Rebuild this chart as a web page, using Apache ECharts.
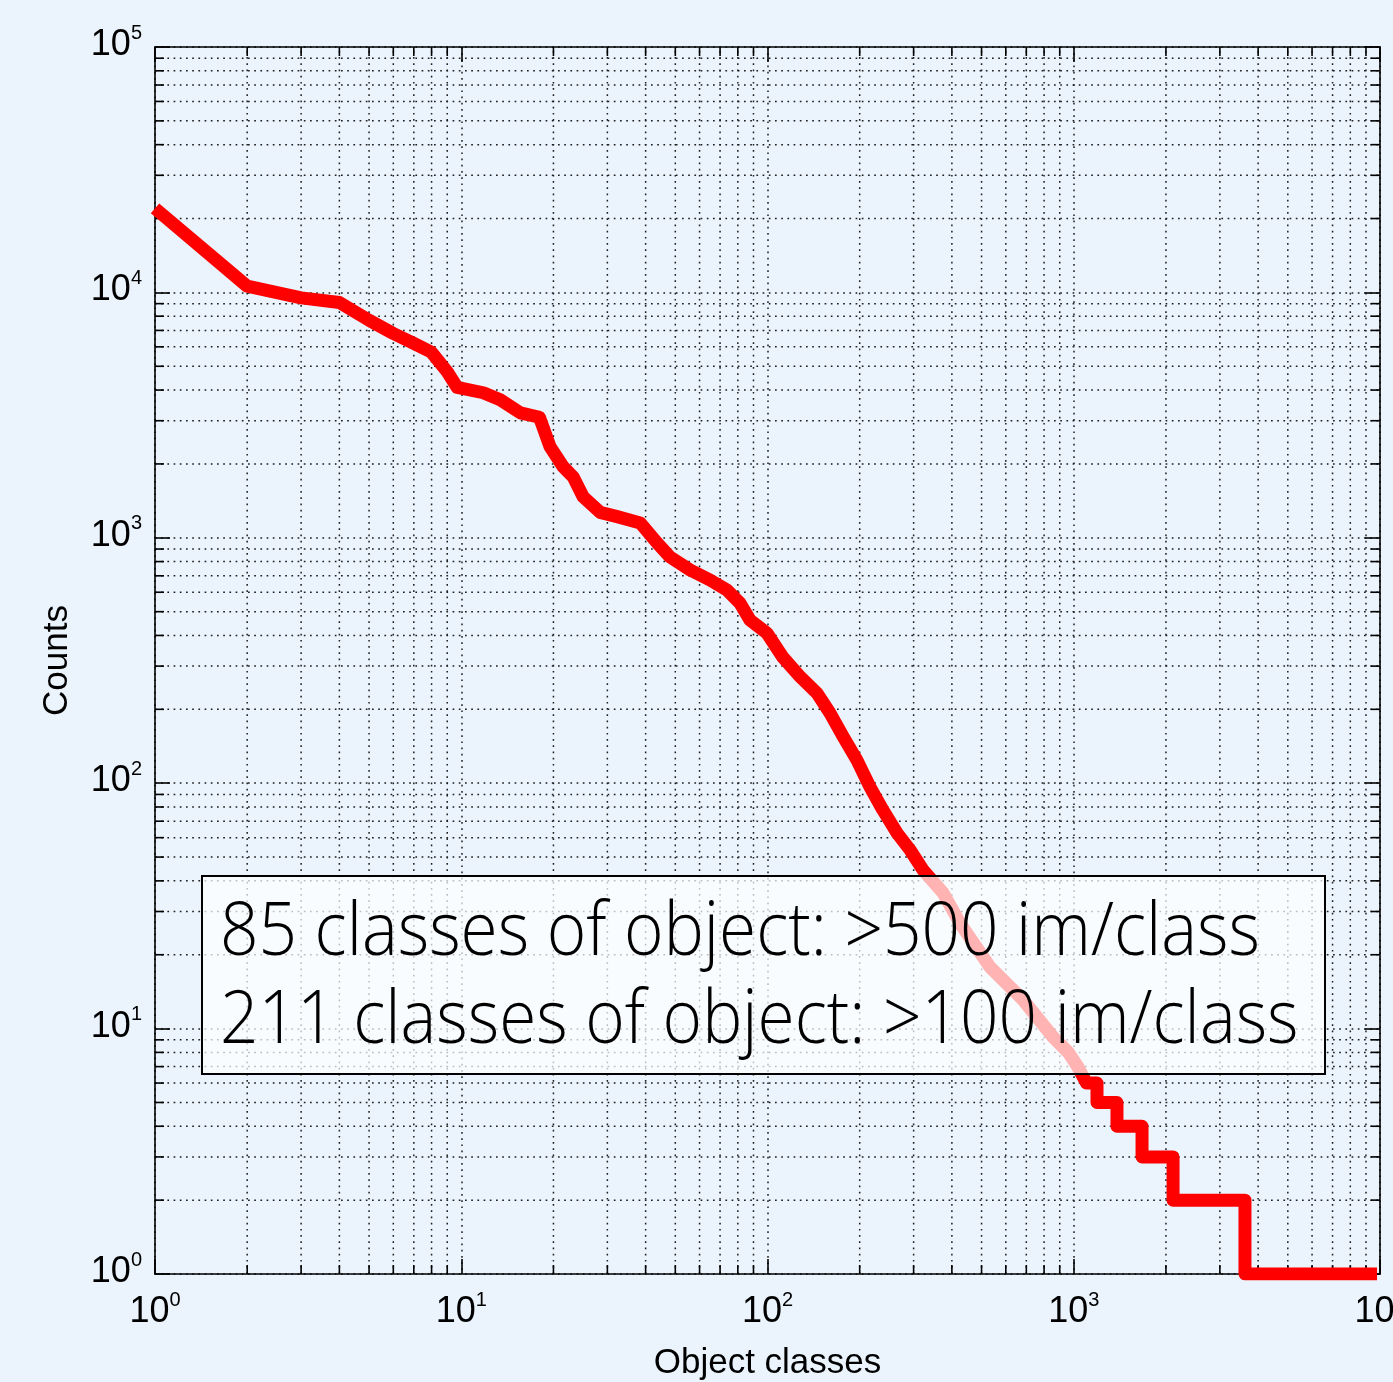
<!DOCTYPE html>
<html>
<head>
<meta charset="utf-8">
<script src="https://cdn.jsdelivr.net/npm/echarts@6/dist/echarts.min.js"></script>
<style>
html,body{margin:0;padding:0;background:#ebf4fd;}
#chart{width:1393px;height:1382px;}
</style>
</head>
<body>
<div id="chart"></div>
<script>
// ---- data ----
const ranks  = [1, 2, 3, 4, 5, 6, 7, 8, 9, 9.7, 11.8, 13.4, 15.6, 18, 19.5, 21.5, 23.2, 25, 28.4, 32.3, 38.4, 43.6, 48, 55.9, 64.9, 73.8, 81.3, 87.7, 99.6, 112, 128, 145, 160, 177, 196, 216, 238, 265, 292, 322, 374, 425, 533, 683, 855, 960, 1030, 1100, 1191, 1191, 1384, 1384, 1671, 1671, 2110, 2110, 3623, 3623, 9780];
const counts = [22000, 10600, 9500, 9100, 7700, 6800, 6200, 5700, 4750, 4100, 3900, 3650, 3230, 3100, 2350, 1950, 1770, 1470, 1270, 1220, 1150, 953, 836, 739, 673, 612, 542, 462, 409, 327, 271, 233, 193, 154, 124, 96.6, 77.8, 62.6, 53.5, 44.3, 35.8, 26.9, 17.8, 13.1, 9.25, 8, 7, 6, 6, 5, 5, 4, 4, 3, 3, 2, 2, 1, 1];

const xMajorTicks = [1, 10, 100, 1000, 10000];
const yMajorTicks = [1, 10, 100, 1000, 10000, 100000];
const xMinorTicks = [2,3,4,5,6,7,8,9, 20,30,40,50,60,70,80,90, 200,300,400,500,600,700,800,900, 2000,3000,4000,5000,6000,7000,8000,9000];
const yMinorTicks = [2,3,4,5,6,7,8,9, 20,30,40,50,60,70,80,90, 200,300,400,500,600,700,800,900, 2000,3000,4000,5000,6000,7000,8000,9000, 20000,30000,40000,50000,60000,70000,80000,90000];

const xAxisTitle = 'Object classes';
const yAxisTitle = 'Counts';
const annotationLines = ['85 classes of object: >500 im/class', '211 classes of object: >100 im/class'];

// ---- styles ----
const BG = '#ebf4fd';
const GRID_STYLE = { stroke: '#1e1e1e', lineWidth: 1.5, lineDash: [1.7, 4.5] };
const LABEL_FONT = '"Liberation Sans", Arial, Helvetica, sans-serif';

const xMin = xMajorTicks[0], xMax = xMajorTicks[xMajorTicks.length - 1];
const yMin = yMajorTicks[0], yMax = yMajorTicks[yMajorTicks.length - 1];

const lineData = ranks.map((r, i) => [r, counts[i]]);

function powLabel(v) {
  const e = Math.round(Math.log10(v));
  return '{b|10}{s|' + e + '}';
}
const rich = {
  b: { fontSize: 36, fontFamily: LABEL_FONT, color: '#000', lineHeight: 36, verticalAlign: 'bottom' },
  s: { fontSize: 20, fontFamily: LABEL_FONT, color: '#000', lineHeight: 40, verticalAlign: 'top' }
};

function renderGrid(params, api) {
  const children = [];
  const tickStyle = { stroke: '#000', lineWidth: 1.6 };
  xMinorTicks.forEach(v => {
    const p0 = api.coord([v, yMin]);
    const p1 = api.coord([v, yMax]);
    children.push({ type: 'line', shape: { x1: p0[0], y1: p0[1], x2: p1[0], y2: p1[1] }, style: GRID_STYLE });
    children.push({ type: 'line', shape: { x1: p0[0], y1: p0[1], x2: p0[0], y2: p0[1] - 9 }, style: tickStyle });
    children.push({ type: 'line', shape: { x1: p1[0], y1: p1[1], x2: p1[0], y2: p1[1] + 9 }, style: tickStyle });
  });
  yMinorTicks.forEach(v => {
    const p0 = api.coord([xMin, v]);
    const p1 = api.coord([xMax, v]);
    children.push({ type: 'line', shape: { x1: p0[0], y1: p0[1], x2: p1[0], y2: p1[1] }, style: GRID_STYLE });
    children.push({ type: 'line', shape: { x1: p0[0], y1: p0[1], x2: p0[0] + 9, y2: p0[1] }, style: tickStyle });
    children.push({ type: 'line', shape: { x1: p1[0], y1: p1[1], x2: p1[0] - 9, y2: p1[1] }, style: tickStyle });
  });
  return { type: 'group', children: children };
}

// measure annotation font to match the narrow face of the original
const ANN_FONT_SIZE = 74;
const ANN_FONT = '300 ' + ANN_FONT_SIZE + 'px "Open Sans"';
const mctx = document.createElement('canvas').getContext('2d');
mctx.font = ANN_FONT;
const annScale = 1040 / mctx.measureText(annotationLines[0]).width;

const majorSplit = { show: true, lineStyle: { color: '#1e1e1e', width: 1.5, type: [1.7, 4.5] } };
const axisLineStyle = { show: true, onZero: false, lineStyle: { color: '#000', width: 1.6 } };
const majorTick = { show: true, inside: true, length: 15, lineStyle: { color: '#000', width: 1.6 } };

const chart = echarts.init(document.getElementById('chart'), null, { renderer: 'canvas' });
chart.setOption({
  animation: false,
  backgroundColor: BG,
  grid: { left: 155, right: 13, top: 47, bottom: 108, containLabel: false, outerBoundsMode: 'none' },
  xAxis: [
    {
      type: 'log', logBase: 10, min: xMin, max: xMax, interval: 1, position: 'bottom',
      axisLine: axisLineStyle, axisTick: majorTick, splitLine: majorSplit,
      minorTick: { show: false }, minorSplitLine: { show: false },
      axisLabel: { formatter: powLabel, rich: rich, margin: 16, showMinLabel: true, showMaxLabel: true, hideOverlap: false },
      name: xAxisTitle, nameLocation: 'middle', nameGap: 72,
      nameTextStyle: { fontFamily: LABEL_FONT, fontSize: 35, color: '#000' }
    },
    {
      type: 'log', logBase: 10, min: xMin, max: xMax, interval: 1, position: 'top',
      axisLine: axisLineStyle, axisTick: majorTick, splitLine: { show: false }, axisLabel: { show: false }
    }
  ],
  yAxis: [
    {
      type: 'log', logBase: 10, min: yMin, max: yMax, interval: 1, position: 'left',
      axisLine: axisLineStyle, axisTick: majorTick, splitLine: majorSplit,
      axisLabel: { formatter: powLabel, rich: rich, margin: 13, padding: [0, 0, 8, 0], showMinLabel: true, showMaxLabel: true },
      name: yAxisTitle, nameLocation: 'middle', nameGap: 80,
      nameTextStyle: { fontFamily: LABEL_FONT, fontSize: 35, color: '#000' }
    },
    {
      type: 'log', logBase: 10, min: yMin, max: yMax, interval: 1, position: 'right',
      axisLine: axisLineStyle, axisTick: majorTick, splitLine: { show: false }, axisLabel: { show: false }
    }
  ],
  series: [
    {
      type: 'custom', name: 'grid', silent: true, z: 1,
      xAxisIndex: 0, yAxisIndex: 0,
      renderItem: renderGrid, data: [[xMin, yMin]]
    },
    {
      type: 'line', name: 'counts', z: 3,
      xAxisIndex: 0, yAxisIndex: 0,
      data: lineData, showSymbol: false, symbol: 'none',
      lineStyle: { color: '#ff0000', width: 13, join: 'round', cap: 'butt' },
      clip: true
    }
  ],
  graphic: [
    {
      type: 'rect', z: 100, silent: true,
      shape: { x: 202, y: 876, width: 1123, height: 198 },
      style: { fill: 'rgba(255,255,255,0.7)', stroke: '#000', lineWidth: 2 }
    },
    {
      type: 'text', z: 101, silent: true, x: 220, y: 934, scaleX: annScale,
      style: { text: annotationLines[0], font: ANN_FONT, fill: '#000', align: 'left', verticalAlign: 'middle' }
    },
    {
      type: 'text', z: 101, silent: true, x: 220, y: 1022, scaleX: annScale,
      style: { text: annotationLines[1], font: ANN_FONT, fill: '#000', align: 'left', verticalAlign: 'middle' }
    }
  ]
});
</script>
</body>
</html>
